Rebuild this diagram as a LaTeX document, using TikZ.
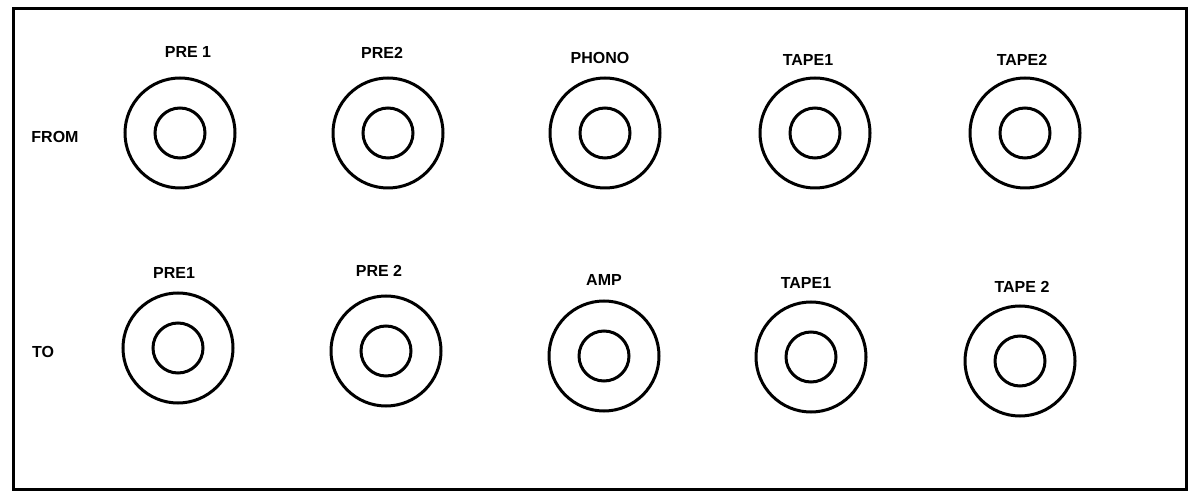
\documentclass[tikz,border=0pt]{standalone}
\usepackage{fontspec}
\setmainfont{Liberation Sans}
\begin{document}
\begin{tikzpicture}[x=1pt,y=-1pt,
  jackouter/.style={circle,draw,line width=3pt,minimum size=110pt,inner sep=0pt},
  jackinner/.style={circle,draw,line width=3pt,minimum size=50pt,inner sep=0pt},
  lbl/.style={font=\bfseries\fontsize{16}{18}\selectfont,inner sep=0pt}]
\useasboundingbox (0,0) rectangle (1196,502);
\node[draw,line width=3pt,minimum width=1173pt,minimum height=481pt,inner sep=0pt,anchor=north west] (panel) at (12,7) {};
% top row
\foreach \n/\x/\y/\t/\lx/\ly in {a/180/133/PRE 1/188/52, b/388/133/PRE2/382/53, c/605/133/PHONO/600/58, d/815/133/TAPE1/808/60, e/1025/133/TAPE2/1022/60}{
  \node[jackouter] (o\n) at (\x,\y) {};
  \node[jackinner] (i\n) at (\x,\y) {};
  \node[lbl] (l\n) at (\lx,\ly) {\t};
}
% bottom row
\foreach \n/\x/\y/\t/\lx/\ly in {f/178/348/PRE1/174/273, g/386/351/PRE 2/379/271, h/604/356/AMP/604/280, k/811/357/TAPE1/806/283, m/1020/361/TAPE 2/1022/287}{
  \node[jackouter] (o\n) at (\x,\y) {};
  \node[jackinner] (i\n) at (\x,\y) {};
  \node[lbl] (l\n) at (\lx,\ly) {\t};
}
\node[lbl] (from) at (55,137) {FROM};
\node[lbl] (to) at (43,352) {TO};
\end{tikzpicture}
\end{document}
